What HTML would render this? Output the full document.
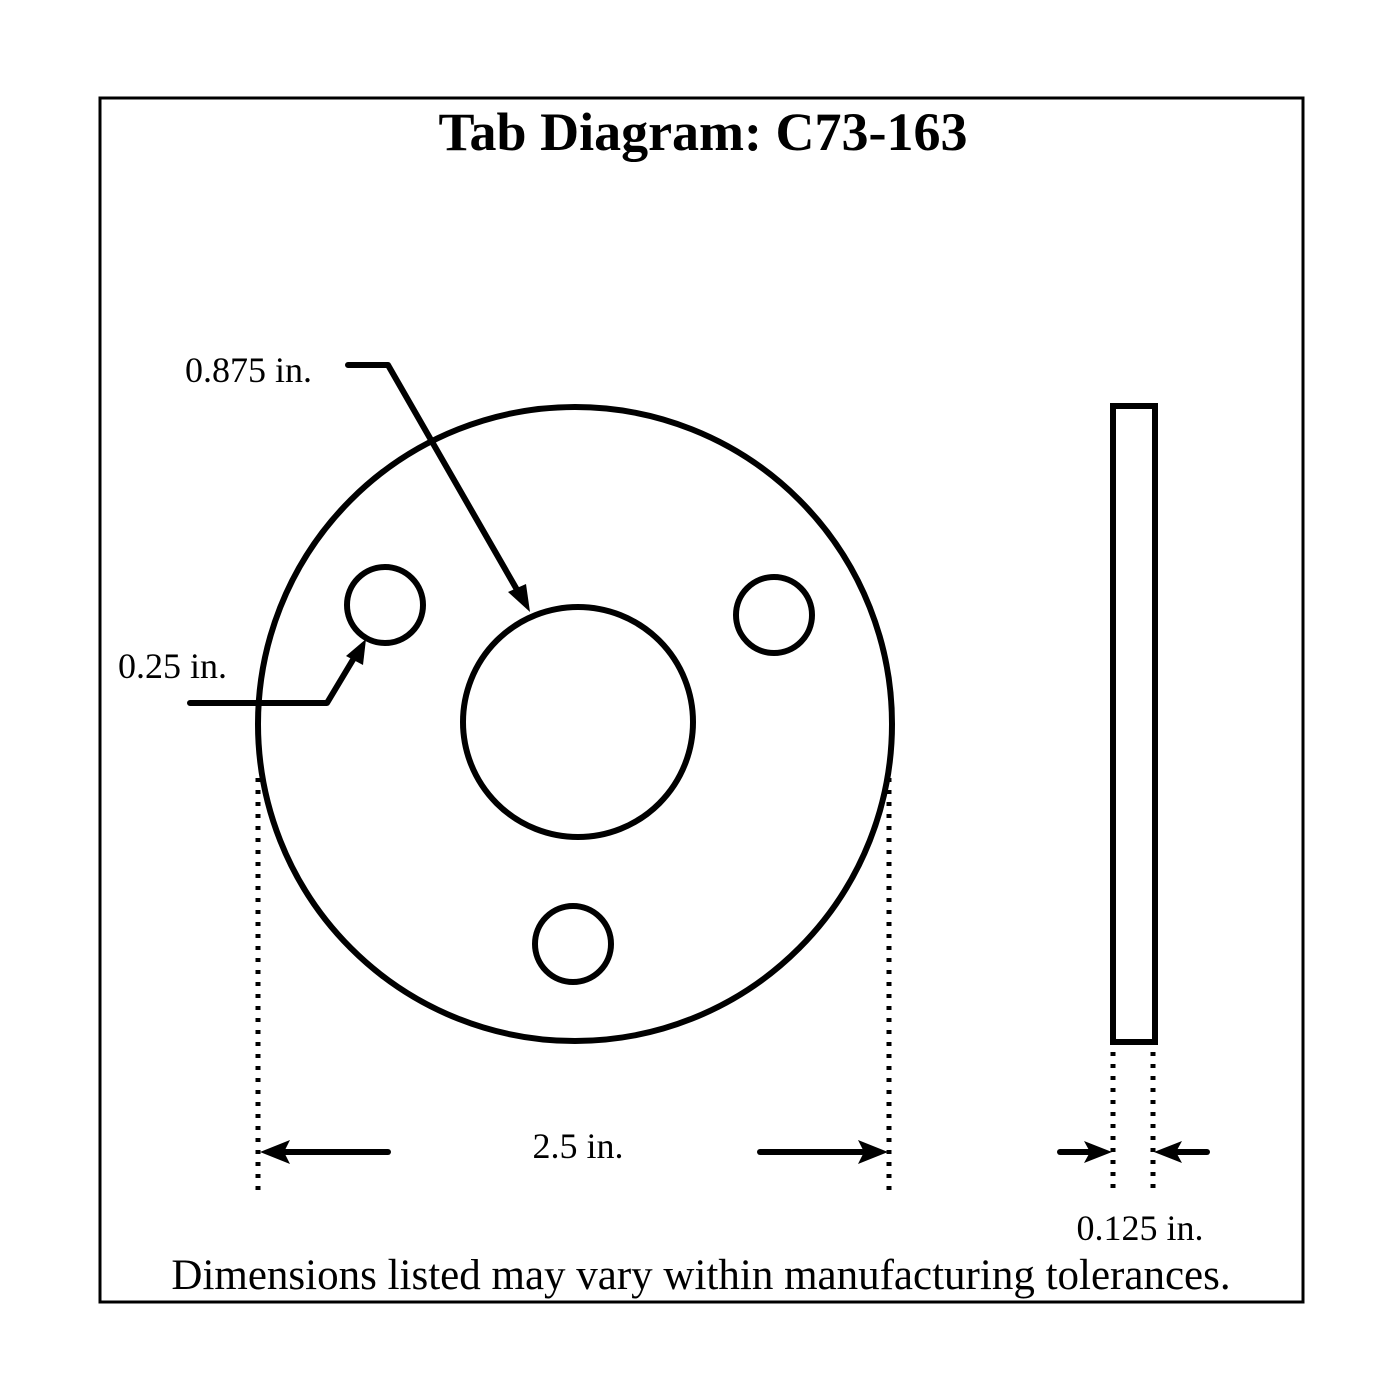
<!DOCTYPE html>
<html><head><meta charset="utf-8"><style>
html,body{margin:0;padding:0;background:#fff;}
svg{display:block;}
</style></head><body>
<svg width="1400" height="1400" viewBox="0 0 1400 1400" xmlns="http://www.w3.org/2000/svg">
<rect x="0" y="0" width="1400" height="1400" fill="#fff"/>
<rect x="100" y="98" width="1203" height="1204" fill="none" stroke="#000" stroke-width="3"/>
<text x="703" y="150" text-anchor="middle" font-family="Liberation Serif, serif" font-weight="bold" font-size="54">Tab Diagram: C73-163</text>
<g fill="none" stroke="#000" stroke-width="6">
<circle cx="575" cy="724" r="317"/>
<circle cx="578" cy="722" r="115"/>
<circle cx="385" cy="605" r="38"/>
<circle cx="774" cy="615" r="38"/>
<circle cx="573" cy="944" r="38"/>
<rect x="1113" y="406" width="42" height="636"/>
</g>
<g fill="none" stroke="#000" stroke-width="6" stroke-linecap="round" stroke-linejoin="round">
<polyline points="348,365 388,365 520,595"/>
<polyline points="190,703 327,703 354,658"/>
<line x1="388" y1="1152" x2="285" y2="1152"/>
<line x1="760" y1="1152" x2="862" y2="1152"/>
<line x1="1060" y1="1152" x2="1090" y2="1152"/>
<line x1="1207" y1="1152" x2="1178" y2="1152"/>
</g>
<g fill="#000">
<polygon points="530,612 508,592 526,584"/>
<polygon points="366,639 363,665 346,656"/>
<polygon points="260,1152 290,1140 284,1152 290,1164"/>
<polygon points="888,1152 858,1140 864,1152 858,1164"/>
<polygon points="1112,1152 1084,1141 1090,1152 1084,1163"/>
<polygon points="1154,1152 1182,1141 1176,1152 1182,1163"/>
</g>
<g stroke="#000" stroke-width="5" stroke-dasharray="4,8" fill="none">
<line x1="258" y1="778" x2="258" y2="1192"/>
<line x1="889" y1="778" x2="889" y2="1192"/>
<line x1="1113" y1="1052" x2="1113" y2="1192"/>
<line x1="1153" y1="1052" x2="1153" y2="1192"/>
</g>
<g font-family="Liberation Serif, serif" font-size="36" fill="#000">
<text x="185" y="382">0.875 in.</text>
<text x="118" y="678">0.25 in.</text>
<text x="578" y="1158" text-anchor="middle">2.5 in.</text>
<text x="1140" y="1240" text-anchor="middle">0.125 in.</text>
</g>
<text x="701" y="1289" text-anchor="middle" font-family="Liberation Serif, serif" font-size="43">Dimensions listed may vary within manufacturing tolerances.</text>
</svg>
</body></html>
